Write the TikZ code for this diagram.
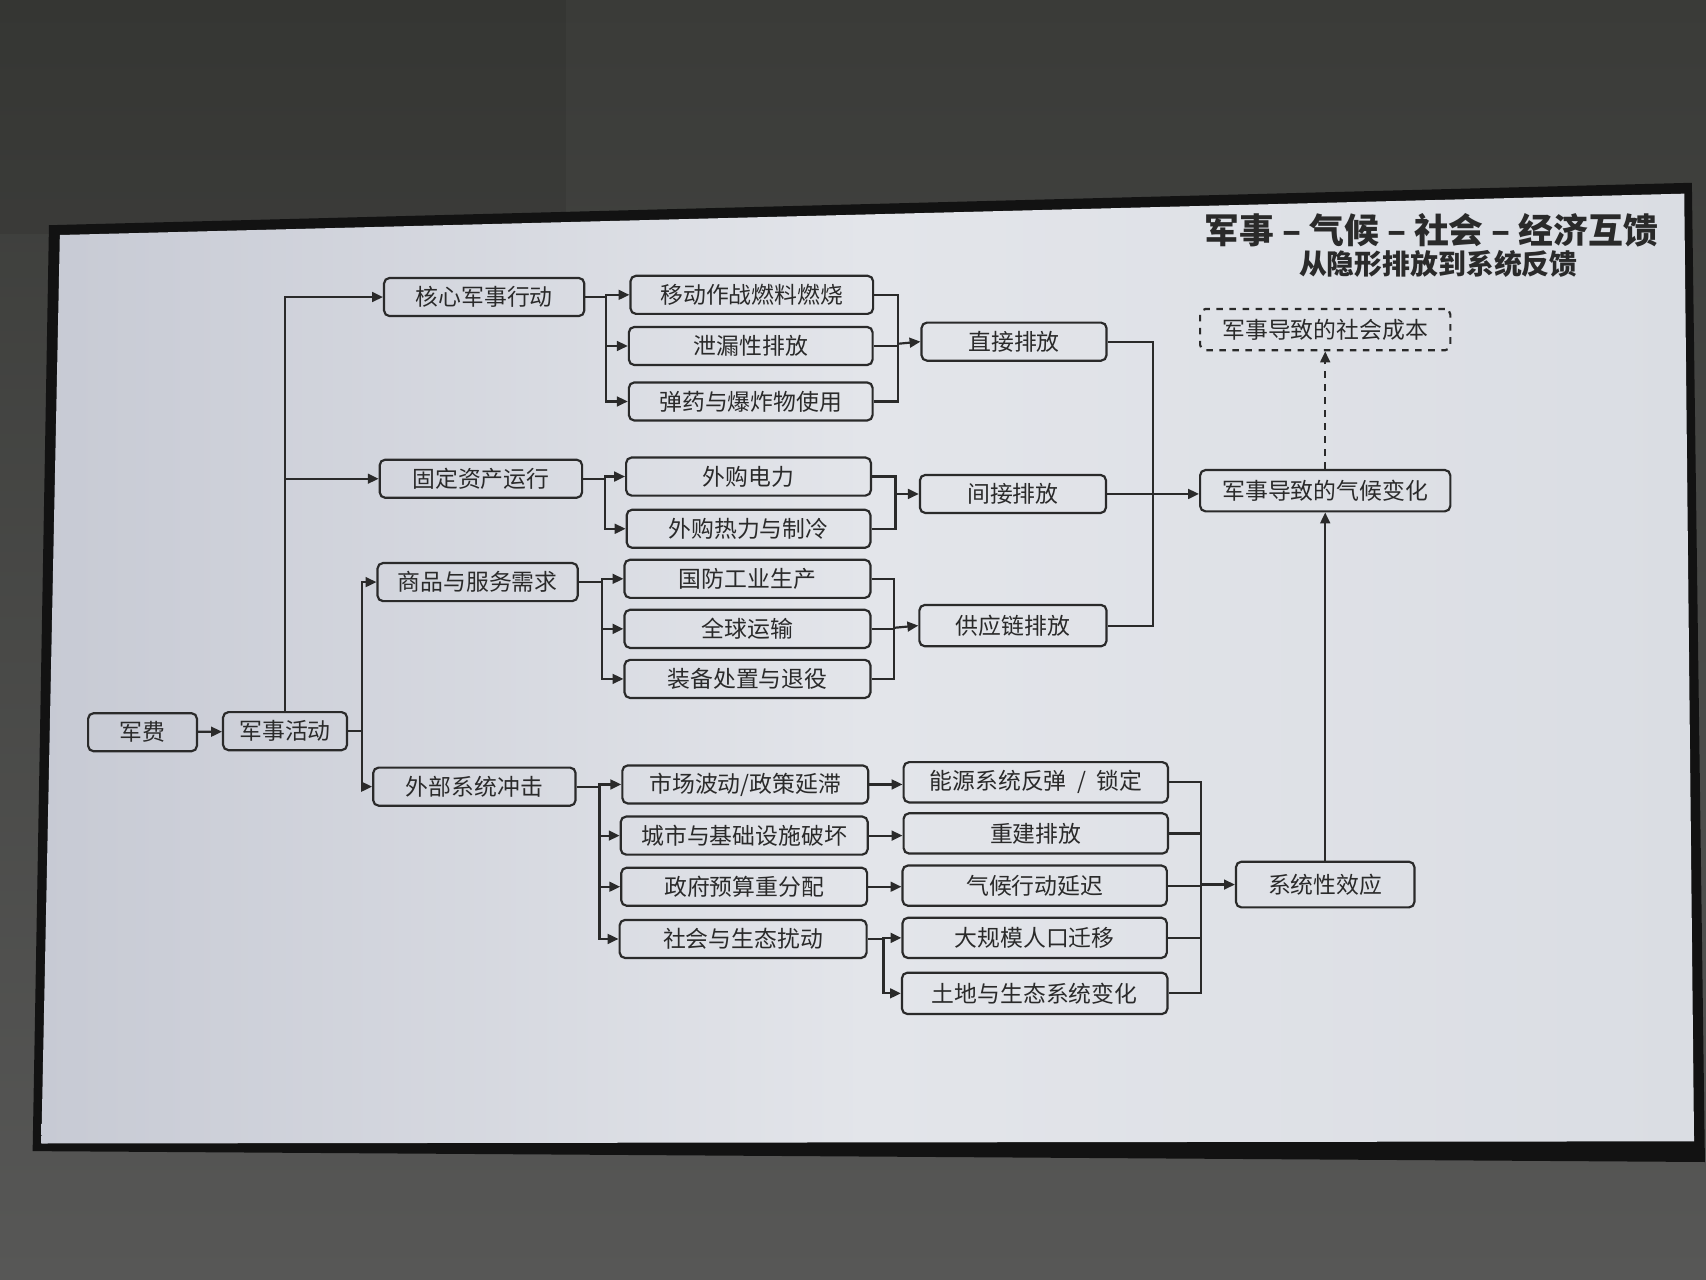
\documentclass[tikz,border=0pt]{standalone}
\usepackage{fontspec}
\newfontfamily\cjk{Noto Sans CJK SC}
\usetikzlibrary{arrows.meta,calc}
\definecolor{wall}{HTML}{3A3B38}
\definecolor{wallb}{HTML}{575756}
\definecolor{bezel}{HTML}{121212}
\definecolor{scrL}{HTML}{C7CAD4}
\definecolor{scrM}{HTML}{E3E5EA}
\definecolor{scrR}{HTML}{DADDE3}
\definecolor{ink}{HTML}{2A2A2A}
\tikzset{
  box/.style={draw=ink, line width=1pt, rounded corners=2.5pt, text=ink,
    font=\cjk\fontsize{10.5}{12}\selectfont, inner sep=0pt, minimum height=17.5pt},
  ln/.style={draw=ink, line width=1pt},
  arr/.style={ln, -{Triangle[length=5pt,width=4.5pt]}},
}
\begin{document}
\begin{tikzpicture}[x=0.5pt,y=-0.5pt]
\useasboundingbox (0,0) rectangle (1568,1176);
% wall
\shade[top color=wall, bottom color=wallb] (0,0) rectangle (1568,1176);
\fill[black,opacity=0.08] (0,0) rectangle (520,215);
% monitor
\fill[bezel] (45,207) -- (1555,168) -- (1567,1068) -- (30,1058) -- cycle;
\shade[left color=scrL, right color=scrR, middle color=scrM]
  (55,216) -- (1548,178) -- (1557,1049) -- (38,1051) -- cycle;

% title
\node[anchor=east, text=ink, font=\cjk\bfseries\fontsize{16}{19}\selectfont] (title) at (1531,212) {军事 – 气候 – 社会 – 经济互馈};
\node[text=ink, font=\cjk\bfseries\fontsize{12.8}{15}\selectfont] (subtitle) at (1322,243) {从隐形排放到系统反馈};

% nodes
\node[box, minimum width=50pt] (fee) at (131,673) {军费};
\node[box, minimum width=57pt] (act) at (262,672) {军事活动};
\node[box, minimum width=92pt] (core) at (445,273) {核心军事行动};
\node[box, minimum width=93pt] (fixed) at (442,440) {固定资产运行};
\node[box, minimum width=92pt] (goods) at (439,535) {商品与服务需求};
\node[box, minimum width=93pt] (ext) at (436,723) {外部系统冲击};

\node[box, minimum width=111.5pt] (m1) at (691,271) {移动作战燃料燃烧};
\node[box, minimum width=112pt] (m2) at (690,318) {泄漏性排放};
\node[box, minimum width=112pt] (m3) at (690,369) {弹药与爆炸物使用};
\node[box, minimum width=112.5pt] (f1) at (688,438) {外购电力};
\node[box, minimum width=112pt] (f2) at (688,486) {外购热力与制冷};
\node[box, minimum width=113pt] (g1) at (687,532) {国防工业生产};
\node[box, minimum width=113pt] (g2) at (687,578) {全球运输};
\node[box, minimum width=113pt] (g3) at (687,624) {装备处置与退役};

\node[box, minimum width=85pt] (direct) at (932,314) {直接排放};
\node[box, minimum width=85.5pt] (indirect) at (931,454) {间接排放};
\node[box, minimum width=86pt, minimum height=19pt] (supply) at (931,575) {供应链排放};

\node[box, minimum width=115pt, minimum height=19pt] (climate) at (1218,451) {军事导致的气候变化};
\node[box, dashed, minimum width=115pt, minimum height=19pt] (social) at (1218,303) {军事导致的社会成本};
\node[box, minimum width=82pt, minimum height=21pt] (sys) at (1218,813) {系统性效应};

\node[box, minimum width=113pt] (e1) at (685,721) {市场波动/政策延滞};
\node[box, minimum width=113.5pt] (e2) at (684,768) {城市与基础设施破坏};
\node[box, minimum width=113pt] (e3) at (684,815) {政府预算重分配};
\node[box, minimum width=113.5pt] (e4) at (683,863) {社会与生态扰动};

\node[box, minimum width=121.5pt, minimum height=18.5pt] (r1) at (952,719) {能源系统反弹\ \ /\ \ 锁定};
\node[box, minimum width=121.5pt, minimum height=18.5pt] (r2) at (952,766) {重建排放};
\node[box, minimum width=121.5pt, minimum height=18.5pt] (r3) at (951,814) {气候行动延迟};
\node[box, minimum width=121.5pt, minimum height=18.5pt] (r4) at (951,862) {大规模人口迁移};
\node[box, minimum width=122pt, minimum height=19pt] (r5) at (951,913) {土地与生态系统变化};

% connectors: left part
\draw[arr] (fee) -- (act);
\draw[arr] (act.north) |- (core.west);
\draw[arr] (act.north |- fixed.west) -- (fixed.west);
\coordinate (j2) at (333,672);
\draw[ln] (act.east) -- (j2);
\draw[arr] (j2) |- (goods.west);
\draw[arr] (j2) |- (ext.west);

% core branch
\coordinate (cf) at (557,273);
\draw[ln] (core.east) -- (cf);
\draw[arr] (cf) |- (m1.west);
\draw[arr] (cf) |- (m2.west);
\draw[arr] (cf) |- (m3.west);
\coordinate (cm) at (825,316);
\draw[ln] (m1.east) -| (cm) |- (m3.east);
\draw[ln] (m2.east) -- (m2.east -| cm);
\draw[arr] (cm) -- (direct.west);

% fixed branch
\coordinate (ff) at (556,440);
\draw[ln] (fixed.east) -- (ff);
\draw[arr] (ff) |- (f1.west);
\draw[arr] (ff) |- (f2.west);
\coordinate (fm) at (823,454);
\draw[ln] (f1.east) -| (fm) |- (f2.east);
\draw[arr] (fm) -- (indirect.west);

% goods branch
\coordinate (gf) at (553,535);
\draw[ln] (goods.east) -- (gf);
\draw[arr] (gf) |- (g1.west);
\draw[arr] (gf) |- (g2.west);
\draw[arr] (gf) |- (g3.west);
\coordinate (gm) at (822,577);
\draw[ln] (g1.east) -| (gm) |- (g3.east);
\draw[ln] (g2.east) -- (g2.east -| gm);
\draw[arr] (gm) -- (supply.west);

% emissions to climate
\coordinate (em) at (1060,454);
\draw[ln] (direct.east) -| (em) |- (supply.east);
\draw[arr] (indirect.east) -- (indirect.east -| climate.west);
\draw[arr, dashed] (climate.north) -- (social.south);
\draw[arr] (sys.north) -- (climate.south);

% external shocks
\coordinate (xf) at (551,723);
\draw[ln] (ext.east) -- (xf);
\draw[arr] (xf) |- (e1.west);
\draw[arr] (xf) |- (e2.west);
\draw[arr] (xf) |- (e3.west);
\draw[arr] (xf) |- (e4.west);
\draw[arr] (e1.east) -- (e1.east -| r1.west);
\draw[arr] (e2.east) -- (e2.east -| r2.west);
\draw[arr] (e3.east) -- (e3.east -| r3.west);
\coordinate (sf) at (812,863);
\draw[ln] (e4.east) -- (sf);
\draw[arr] (sf) |- (r4.west);
\draw[arr] (sf) |- (r5.west);
\coordinate (rm) at (1104,813);
\draw[ln] (r1.east) -| (rm) |- (r5.east);
\draw[ln] (r2.east) -- (r2.east -| rm);
\draw[ln] (r3.east) -- (r3.east -| rm);
\draw[ln] (r4.east) -- (r4.east -| rm);
\draw[arr] (rm) -- (sys.west);
\end{tikzpicture}
\end{document}
